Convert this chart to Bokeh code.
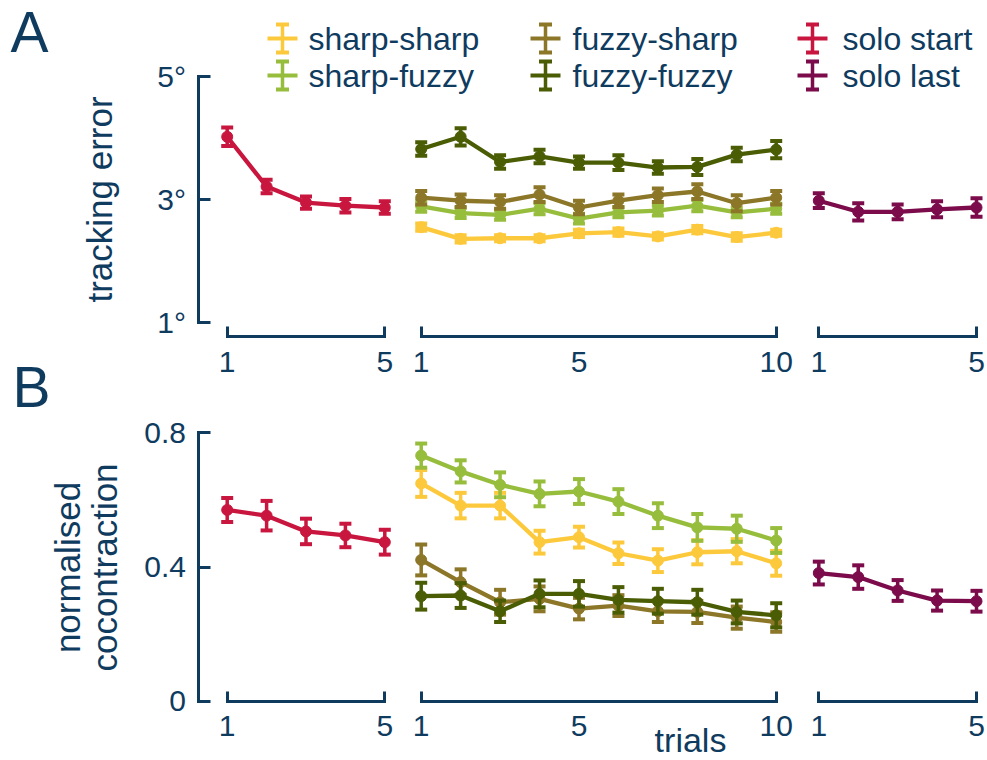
import math
from bokeh.plotting import figure
from bokeh.models import Range1d, LinearAxis, FixedTicker
from bokeh.core.properties import value
from bokeh.embed import file_html
from bokeh.resources import INLINE

# ---------------- data ----------------
solo_trials = [1, 2, 3, 4, 5]
paired_trials = [1, 2, 3, 4, 5, 6, 7, 8, 9, 10]

paired_names = ["sharp-sharp", "sharp-fuzzy", "fuzzy-sharp", "fuzzy-fuzzy"]
solo_names = ["solo start", "solo last"]

# tracking error (degrees), mean and error
err_ss = [2.55, 2.36, 2.37, 2.37, 2.45, 2.47, 2.40, 2.51, 2.39, 2.46]
err_ss_se = [0.06, 0.06, 0.05, 0.05, 0.06, 0.06, 0.05, 0.06, 0.06, 0.05]
err_sf = [2.89, 2.78, 2.75, 2.85, 2.69, 2.79, 2.82, 2.90, 2.79, 2.85]
err_sf_se = [0.09, 0.08, 0.08, 0.09, 0.08, 0.08, 0.08, 0.09, 0.08, 0.08]
err_fs = [3.03, 2.98, 2.96, 3.08, 2.87, 2.98, 3.07, 3.13, 2.94, 3.03]
err_fs_se = [0.11, 0.10, 0.11, 0.12, 0.11, 0.10, 0.11, 0.12, 0.13, 0.11]
err_ff = [3.82, 4.02, 3.61, 3.70, 3.60, 3.60, 3.52, 3.53, 3.73, 3.81]
err_ff_se = [0.11, 0.14, 0.11, 0.11, 0.10, 0.12, 0.10, 0.13, 0.11, 0.14]
err_start = [4.02, 3.21, 2.95, 2.90, 2.87]
err_start_se = [0.15, 0.11, 0.10, 0.11, 0.10]
err_last = [2.98, 2.80, 2.80, 2.84, 2.87]
err_last_se = [0.12, 0.14, 0.12, 0.13, 0.15]

# normalised cocontraction, mean and error
coc_ss = [0.649, 0.583, 0.583, 0.474, 0.489, 0.441, 0.419, 0.444, 0.447, 0.411]
coc_ss_se = [0.040, 0.038, 0.038, 0.034, 0.031, 0.032, 0.034, 0.036, 0.036, 0.037]
coc_sf = [0.732, 0.685, 0.645, 0.618, 0.625, 0.595, 0.553, 0.518, 0.514, 0.479]
coc_sf_se = [0.036, 0.033, 0.037, 0.037, 0.037, 0.037, 0.037, 0.040, 0.039, 0.037]
coc_fs = [0.421, 0.355, 0.295, 0.305, 0.276, 0.285, 0.268, 0.266, 0.249, 0.236]
coc_fs_se = [0.046, 0.038, 0.037, 0.037, 0.032, 0.031, 0.032, 0.033, 0.033, 0.029]
coc_ff = [0.313, 0.315, 0.268, 0.320, 0.320, 0.302, 0.298, 0.295, 0.266, 0.256]
coc_ff_se = [0.040, 0.037, 0.032, 0.040, 0.038, 0.038, 0.037, 0.037, 0.034, 0.036]
coc_start = [0.570, 0.553, 0.506, 0.494, 0.474]
coc_start_se = [0.036, 0.044, 0.038, 0.035, 0.037]
coc_last = [0.382, 0.370, 0.330, 0.300, 0.298]
coc_last_se = [0.034, 0.035, 0.031, 0.030, 0.031]

err_ticks = [1, 3, 5]
err_tick_labels = ["1°", "3°", "5°"]
coc_ticks = [0, 0.4, 0.8]
coc_tick_labels = ["0", "0.4", "0.8"]
solo_xticks = [1, 5]
paired_xticks = [1, 5, 10]

# ---------------- style / layout ----------------
NAVY = "#0f3b5f"
COLORS = {
    "sharp-sharp": "#fdc93c",
    "sharp-fuzzy": "#97bd3d",
    "fuzzy-sharp": "#8c7628",
    "fuzzy-fuzzy": "#4a5d05",
    "solo start": "#c8163f",
    "solo last": "#7b0b4a",
}
FONT = "Liberation Sans"
W, H = 987, 760


def xrange_from(p0, v0, p1, v1):
    k = (v1 - v0) / (p1 - p0)
    s = v0 - p0 * k
    return Range1d(start=s, end=s + W * k)


def yrange_from(p0, v0, p1, v1):
    # p measured from the top of the canvas
    b0, b1 = H - p0, H - p1
    k = (v1 - v0) / (b1 - b0)
    s = v0 - b0 * k
    return Range1d(start=s, end=s + H * k)


def xval(r, px):
    return r.start + px * (r.end - r.start) / W


def yval(r, py):
    return r.start + (H - py) * (r.end - r.start) / H


p = figure(width=W, height=H, x_range=Range1d(0, W), y_range=Range1d(H, 0),
           x_axis_type=None, y_axis_type=None, toolbar_location=None,
           output_backend="svg", min_border=0, outline_line_color=None,
           background_fill_color="white", border_fill_color="white")

rs = xrange_from(226.7, 1, 384.3, 5)
rp = xrange_from(420.7, 1, 775.7, 10)
rl = xrange_from(818.3, 1, 976.0, 5)
ra = yrange_from(322.0, 1, 76.0, 5)
rb = yrange_from(700.7, 0, 432.3, 0.8)
p.extra_x_ranges = {"s": rs, "p": rp, "l": rl}
p.extra_y_ranges = {"err": ra, "coc": rb}


def draw(xs, ys, se, color, xr, yr):
    lo = [y - e for y, e in zip(ys, se)]
    hi = [y + e for y, e in zip(ys, se)]
    kw = dict(x_range_name=xr, y_range_name=yr)
    p.line(xs, ys, line_color=color, line_width=4.3, line_join="round", **kw)
    p.segment(x0=xs, y0=lo, x1=xs, y1=hi, line_color=color, line_width=3.5, **kw)
    p.scatter(xs + xs, lo + hi, marker="dash", size=12, line_color=color,
              line_width=4, **kw)
    p.scatter(xs, ys, marker="circle", size=11, fill_color=color,
              line_color=color, **kw)


paired_err = [(err_ss, err_ss_se), (err_sf, err_sf_se), (err_fs, err_fs_se), (err_ff, err_ff_se)]
paired_coc = [(coc_ss, coc_ss_se), (coc_sf, coc_sf_se), (coc_fs, coc_fs_se), (coc_ff, coc_ff_se)]
for name, (m, e) in zip(paired_names, paired_err):
    draw(paired_trials, m, e, COLORS[name], "p", "err")
for name, (m, e) in zip(paired_names, paired_coc):
    draw(paired_trials, m, e, COLORS[name], "p", "coc")
draw(solo_trials, err_start, err_start_se, COLORS["solo start"], "s", "err")
draw(solo_trials, err_last, err_last_se, COLORS["solo last"], "l", "err")
draw(solo_trials, coc_start, coc_start_se, COLORS["solo start"], "s", "coc")
draw(solo_trials, coc_last, coc_last_se, COLORS["solo last"], "l", "coc")


# ---------------- axes ----------------
def common(ax, fs="30px"):
    ax.axis_line_color = NAVY
    ax.axis_line_width = 3
    ax.axis_line_cap = "square"
    ax.major_tick_line_color = NAVY
    ax.major_tick_line_width = 3
    ax.minor_tick_line_color = NAVY
    ax.minor_tick_line_width = 3
    ax.major_label_text_color = NAVY
    ax.major_label_text_font = FONT
    ax.major_label_text_font_size = fs


YAX_PX = 197.5
for yr_name, yr, ticks, labels, lo, hi in [
        ("err", ra, err_ticks, err_tick_labels, 1, 5),
        ("coc", rb, coc_ticks, coc_tick_labels, 0, 0.8)]:
    ax = LinearAxis(x_range_name="s", y_range_name=yr_name,
                    fixed_location=xval(rs, YAX_PX), bounds=(lo, hi),
                    ticker=FixedTicker(ticks=ticks, minor_ticks=[]),
                    major_label_overrides=dict(zip(ticks, labels)),
                    major_tick_in=12, major_tick_out=0,
                    minor_tick_in=0, minor_tick_out=0,
                    major_label_standoff=12)
    common(ax)
    p.add_layout(ax, "left")

for yr_name, yr, ypx in [("err", ra, 336.0), ("coc", rb, 700.7)]:
    for xr_name, ticks, lo, hi in [("s", solo_xticks, 1, 5),
                                   ("p", paired_xticks, 1, 10),
                                   ("l", solo_xticks, 1, 5)]:
        ax = LinearAxis(x_range_name=xr_name, y_range_name=yr_name,
                        fixed_location=yval(yr, ypx), bounds=(lo, hi),
                        ticker=FixedTicker(ticks=ticks, minor_ticks=[lo, hi]),
                        major_tick_in=0, major_tick_out=0,
                        minor_tick_in=10, minor_tick_out=0,
                        major_label_standoff=15)
        common(ax)
        ax.major_tick_line_color = None
        p.add_layout(ax, "below")


# ---------------- texts ----------------
def txt(x, y, text, size, angle=0.0, align="left"):
    p.text(x=[x], y=[y], text=[text], angle=angle, text_align=align,
           text_baseline="middle", text_font=value(FONT),
           text_font_size=size, text_color=NAVY)


txt(10, 31, "A", "57px")
txt(12, 386, "B", "57px")
txt(99, 199, "tracking error", "35px", angle=math.pi / 2, align="center")
txt(67, 567, "normalised", "35px", angle=math.pi / 2, align="center")
txt(104, 567, "cocontraction", "35px", angle=math.pi / 2, align="center")
txt(690, 739, "trials", "34px", align="center")

# ---------------- legend (drawn by hand) ----------------
leg_names = [paired_names[0], paired_names[1], paired_names[2], paired_names[3],
             solo_names[0], solo_names[1]]
col_icon = [282, 282, 545, 545, 812, 812]
col_text = [308, 308, 572, 572, 842, 842]
row_y = [38, 75, 38, 75, 38, 75]
for name, cx, tx, cy in zip(leg_names, col_icon, col_text, row_y):
    c = COLORS[name]
    p.segment(x0=[cx - 15], y0=[cy], x1=[cx + 15], y1=[cy], line_color=c, line_width=4)
    p.segment(x0=[cx], y0=[cy - 14], x1=[cx], y1=[cy + 14], line_color=c, line_width=3.5)
    p.scatter([cx, cx], [cy - 14, cy + 14], marker="dash", size=13, line_color=c, line_width=4)
    txt(tx, cy, name, "32px")

open("out.html", "w").write(file_html(p, INLINE))
